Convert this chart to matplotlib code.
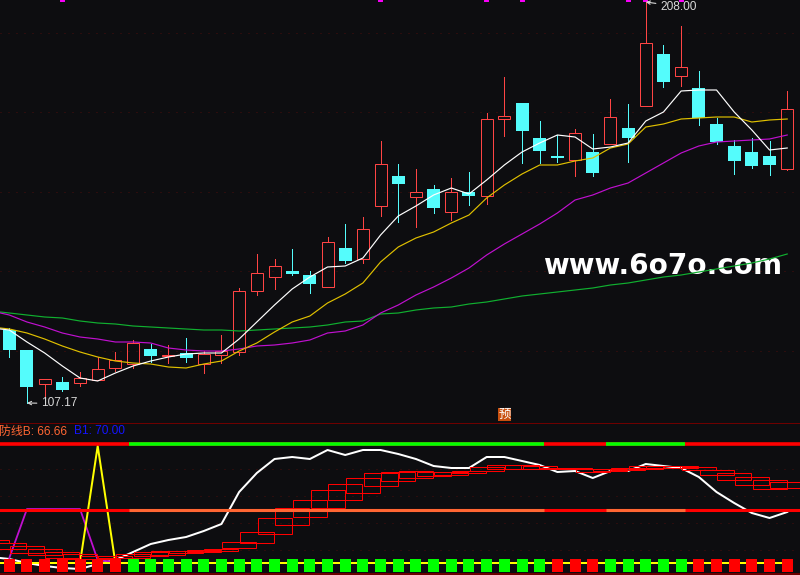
import matplotlib
matplotlib.use('Agg')
import matplotlib.pyplot as plt
from matplotlib.patches import Rectangle

plt.rcParams['font.family'] = ['Liberation Sans', 'Noto Sans CJK SC', 'DejaVu Sans']

candle_high = [328, 350, 379, 377, 372, 357, 352, 340, 344, 345, 338, 351, 335, 288, 254,
               259, 249, 271, 237, 224, 217, 141, 164, 169, 185, 178, 172, 113, 77, 103,
               121, 135, 129, 134, 99, 104, 0, 45, 26, 71, 118, 140, 138, 141, 91]
candle_top = [330, 350, 379, 382, 378, 369, 360, 343, 349, 355, 353, 354, 351, 291, 273,
              266, 271, 275, 242, 248, 229, 164, 176, 192, 189, 192, 192, 119, 116, 103,
              138, 156, 133, 152, 117, 128, 43, 54, 67, 88, 124, 146, 152, 156, 109]
candle_bottom = [350, 387, 384, 390, 383, 380, 368, 364, 356, 356, 358, 364, 355, 352, 291,
                 277, 274, 284, 287, 261, 259, 206, 184, 197, 208, 212, 196, 196, 119, 131,
                 151, 158, 160, 173, 144, 138, 106, 82, 76, 118, 142, 161, 166, 165, 169]
candle_low = [357, 403, 396, 391, 386, 380, 371, 368, 362, 363, 362, 373, 363, 355, 295,
              289, 275, 293, 287, 263, 263, 216, 222, 227, 213, 220, 205, 204, 136, 163,
              163, 162, 176, 176, 144, 162, 106, 87, 86, 125, 144, 174, 168, 175, 170]
candle_up = [0, 0, 1, 0, 1, 1, 1, 1, 0, 1, 0, 1, 1, 1, 1,
             1, 0, 0, 1, 0, 1, 1, 0, 1, 0, 1, 0, 1, 1, 0,
             0, 0, 1, 0, 1, 0, 1, 0, 1, 0, 0, 0, 0, 0, 1]

# the lines start one bar left of the window
ma_white = [328, 330, 342, 353, 366, 378, 381, 373, 366, 361, 357, 354, 353, 353, 339, 322,
            305, 289, 277, 267, 266, 258, 235, 216, 206, 195, 188, 194, 180, 165, 152,
            143, 135, 137, 149, 147, 143, 121, 112, 91, 90, 90, 112, 130, 150, 148]
ma_yellow = [327, 329, 333, 339, 346, 352, 357, 361, 363, 364, 367, 368, 364, 361, 351, 343,
             332, 322, 316, 303, 294, 283, 262, 247, 238, 232, 223, 215, 198, 185, 174,
             165, 165, 161, 158, 148, 144, 127, 124, 119, 118, 117, 117, 122, 120, 119]
ma_magenta = [311, 315, 322, 327, 333, 337, 339, 342, 342, 343, 348, 350, 351, 351, 349, 346,
              345, 343, 340, 333, 331, 325, 313, 305, 295, 287, 278, 268, 255, 244, 234,
              224, 213, 200, 195, 188, 183, 173, 163, 153, 146, 142, 141, 140, 139, 135]
ma_green = [311, 313, 315, 317, 318, 321, 323, 324, 326, 327, 328, 329, 330, 330, 331, 330,
            329, 328, 327, 325, 322, 321, 314, 313, 310, 308, 307, 304, 302, 299, 296,
            294, 292, 290, 288, 285, 283, 280, 277, 275, 272, 269, 266, 263, 259, 254]

low_white = [557, 559, 563, 566, 568, 569, 564, 560, 552, 544, 540, 537, 531, 524, 492, 473,
             459, 457, 459, 450, 455, 450, 450, 454, 459, 466, 468, 468, 457, 457, 461,
             465, 472, 471, 478, 471, 471, 464, 466, 468, 477, 492, 503, 513, 518, 512]
low_magenta = [558, 509, 509, 509, 509, 560, 562]
low_yellow = [563, 563, 563, 563, 563, 446, 563]

# boxes start one bar left of the window too
box_top = [540, 543, 546, 549, 552, 554, 556, 556, 554, 552, 551, 551, 550, 549, 542,
           532, 518, 508, 500, 490, 484, 478, 473, 472, 471, 472, 472, 471, 467, 465,
           465, 466, 468, 468, 469, 469, 468, 466, 466, 466, 467, 470, 473, 477, 480, 482]
box_bottom = [543, 549, 553, 555, 558, 559, 559, 558, 558, 556, 555, 553, 552, 551, 548,
              543, 534, 525, 517, 508, 500, 493, 486, 481, 478, 476, 475, 473, 471, 469,
              469, 469, 469, 469, 472, 471, 470, 469, 468, 468, 470, 475, 480, 485, 489, 488]

green_runs = [(7, 30), (34, 38)]
peak_marks = [3, 21, 27, 29, 35, 36, 38]
price_grid = [33, 112, 192, 271, 351]
low_grid = [469, 496, 523, 550]

BG = '#0d0d10'
RED = '#ff4444'
CYAN = '#54fcfc'
BAR_W = 17.68
X0 = 9.3
THIN = 0.72  # one pixel
n = len(candle_top)
px = 1 / BAR_W  # one pixel in bar units
xs = list(range(n))
xs_line = list(range(-1, n))


def col(x):
    return (x - X0) / BAR_W


fig = plt.figure(figsize=(8, 5.75), dpi=100, facecolor=BG)
ax = fig.add_axes([0, 0, 1, 1], facecolor=BG)
ax.set_xlim(col(0), col(800))
ax.set_ylim(575, 0)
ax.axis('off')

for y in price_grid + low_grid:
    ax.axhline(y, color='#4a0e0e', lw=THIN, dashes=(1, 7), zorder=1)
ax.axhline(422.5, color='#6e0000', lw=THIN, zorder=1)
ax.axhline(574, color='#6e0000', lw=1.4, zorder=1)

# candles
for i in xs:
    if candle_up[i]:
        ax.add_patch(Rectangle((i - 6 * px, candle_top[i]), 12 * px, candle_bottom[i] - candle_top[i],
                               fill=False, ec=RED, lw=THIN, zorder=2))
        c = RED
    else:
        ax.add_patch(Rectangle((i - 6.5 * px, candle_top[i]), 13 * px, candle_bottom[i] - candle_top[i],
                               fc=CYAN, ec='none', zorder=2))
        c = CYAN
    ax.plot([i, i], [candle_high[i], candle_top[i]], color=c, lw=THIN, zorder=2)
    ax.plot([i, i], [candle_bottom[i], candle_low[i]], color=c, lw=THIN, zorder=2)

ax.text(col(543), 266.5, 'www.6o7o.com', color='white', fontsize=20.05,
        fontweight='bold', family='DejaVu Sans', va='center', ha='left', zorder=3)

ax.plot(xs_line, ma_green, color='#10b030', lw=0.85, zorder=4)
ax.plot(xs_line, ma_magenta, color='#c010d0', lw=0.85, zorder=4)
ax.plot(xs_line, ma_yellow, color='#e0c000', lw=0.85, zorder=4)
ax.plot(xs_line, ma_white, color='white', lw=0.85, zorder=5)

for k in peak_marks:
    ax.plot([k - 1.5 * px, k + 1.5 * px], [0.6, 0.6], color='#ff00ff', lw=1.4, zorder=6)

ax.annotate('107.17', xy=(1, 403), xytext=(col(41), 403.5), color='#d8d8d8', fontsize=8.6,
            va='center', ha='left', zorder=6,
            arrowprops=dict(arrowstyle='->', color='#d8d8d8', lw=0.8, shrinkA=1, shrinkB=0, mutation_scale=6))
ax.annotate('208.00', xy=(36, 2), xytext=(col(660), 6.5), color='#d8d8d8', fontsize=8.6,
            va='center', ha='left', zorder=6,
            arrowprops=dict(arrowstyle='->', color='#d8d8d8', lw=0.8, shrinkA=1, shrinkB=0, mutation_scale=6))

ax.add_patch(Rectangle((col(497.5), 408), 13.5 / BAR_W, 13, fc='#c85010', ec='none', zorder=6))
ax.text(col(504.5), 414.5, '预', color='white', fontsize=9, ha='center', va='center',
        family='Noto Sans CJK SC', zorder=7)

# indicator panel
ax.text(col(-1), 431.5, '防线B: 66.66', color='#ff6633', fontsize=8.6, va='center', ha='left', zorder=6)
ax.text(col(74), 431.5, 'B1: 70.00', color='#1414ff', fontsize=8.6, va='center', ha='left', zorder=6)

ax.plot(xs_line, low_white, color='white', lw=1.44, zorder=2)
ax.plot(range(len(low_magenta)), low_magenta, color='#c010d0', lw=1.3, zorder=2)
ax.plot([col(0), n - 1], [563, 563], color='#ffff00', lw=1.44, zorder=2.5)
ax.plot(range(len(low_yellow)), low_yellow, color='#ffff00', lw=1.44, zorder=2.5)

for i in range(len(box_top)):
    k = i - 1
    ax.add_patch(Rectangle((k - 17 * px, box_top[i]), 34 * px, box_bottom[i] - box_top[i],
                           fill=False, ec='#ff0000', lw=THIN, zorder=3))

ax.axhline(444, color='#ff0000', lw=2.6, zorder=4)
ax.axhline(510, color='#ff0000', lw=2.2, zorder=4)
for a, b in green_runs:
    ax.plot([a - 4 * px, b + 4 * px], [444, 444], color='#00ff00', lw=2.6, solid_capstyle='butt', zorder=4.5)
    ax.plot([a - 4 * px, b + 4 * px], [510, 510], color='#ff6633', lw=2.2, solid_capstyle='butt', zorder=4.5)

# state squares along the bottom
for k in xs:
    state = any(a <= k <= b for a, b in green_runs)
    ax.add_patch(Rectangle((k - 5.5 * px, 559), 11 * px, 13, fc='#00ff00' if state else '#ff0000',
                           ec='none', zorder=5))

plt.savefig('out.png', dpi=100, facecolor=BG)
